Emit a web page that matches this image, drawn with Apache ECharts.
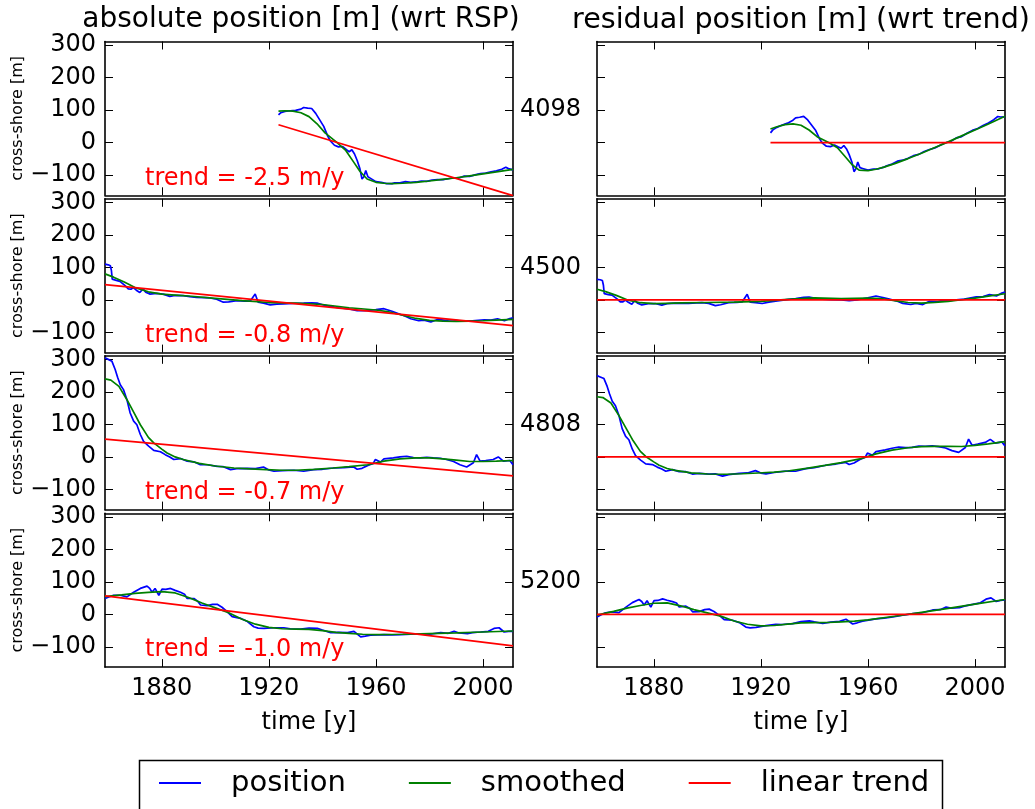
<!DOCTYPE html>
<html>
<head>
<meta charset="utf-8">
<script src="https://cdn.jsdelivr.net/npm/echarts@6/dist/echarts.min.js"></script>
<style>html,body{margin:0;padding:0;background:#fff;}#c{width:1035px;height:809px;}</style>
</head>
<body>
<div id="c"></div>
<script>
// ---------- data ----------
const transectIds = ['4098', '4500', '4808', '5200'];
const trendLabels = ['trend = -2.5 m/y', 'trend = -0.8 m/y', 'trend = -0.7 m/y', 'trend = -1.0 m/y'];
const xTicks = [1880, 1920, 1960, 2000];
const yTicks = [-100, 0, 100, 200, 300];
const seriesNames = ['position', 'smoothed', 'linear trend'];

// linear trend end points [year0, value0, year1, value1]
const trend4098 = [1923.6, 55, 2011.2, -163];
const trend4500 = [1858.8, 47, 2011.2, -79];
const trend4808 = [1858.8, 55, 2011.2, -58];
const trend5200 = [1858.8, 57, 2011.2, -97];

const pos4098 = [[1923.6,85],[1924.5,92],[1926,96],[1928,98],[1930,99],[1932,103],[1933,108],[1934.5,106],[1936,105],[1937.5,90],[1939,70],[1940.5,50],[1942,20],[1943,5],[1944.5,-8],[1946,-13],[1947.5,-12],[1949,-22],[1950,-28],[1951,-22],[1952,-35],[1953,-55],[1954,-80],[1954.8,-112],[1955.5,-105],[1956.2,-86],[1957,-105],[1958,-110],[1960,-120],[1962,-122],[1964,-126],[1966,-126],[1967,-124],[1969,-124],[1971,-120],[1973,-122],[1975,-121],[1977,-118],[1979,-119],[1981,-115],[1983,-114],[1985,-114],[1987,-111],[1989,-108],[1991,-109],[1993,-103],[1995,-104],[1997,-99],[1999,-95],[2001,-94],[2003,-90],[2005,-87],[2007,-82],[2008.5,-76],[2009.5,-80],[2011.2,-84]];
const smooth4098 = [[1923.6,97],[1926,98],[1929,97],[1932,92],[1935,80],[1938,58],[1941,30],[1945.5,0],[1948.6,-23],[1951.7,-60],[1954,-88],[1956.7,-112],[1960,-122],[1963,-125],[1966,-126],[1970,-125],[1975,-122],[1980,-118],[1985,-113],[1990,-108],[1995,-102],[2000,-96],[2005,-90],[2011.2,-82]];

const pos4500 = [[1858.8,110],[1860,108],[1860.8,105],[1861.2,90],[1861.5,64],[1863,60],[1864.4,57],[1866.3,44],[1867.5,34],[1868.5,33],[1869.4,38],[1870.5,30],[1871.8,23],[1873,34],[1874,24],[1875.5,18],[1878,20],[1880.5,18],[1883,11],[1885,14],[1888,13],[1890.5,10],[1893,8],[1896,7],[1898,6],[1900.5,2],[1903,-7],[1905,-6],[1908,-2],[1911,-4],[1913,-4],[1914.9,18],[1916,-7],[1918,-10],[1920.5,-15],[1923,-13],[1925.5,-12],[1929,-11],[1933,-10],[1936,-9],[1938,-10],[1941,-17],[1943,-20],[1946,-24],[1950,-28],[1953,-33],[1956,-33],[1960,-30],[1963,-27],[1966,-35],[1968,-41],[1971,-50],[1973,-58],[1976,-64],[1978,-62],[1980.5,-68],[1983,-60],[1986,-63],[1988,-61],[1991,-64],[1993,-64],[1996,-64],[2000.5,-61],[2003,-62],[2005.4,-58],[2008,-64],[2010,-57],[2011.2,-55]];
const smooth4500 = [[1858.8,80],[1862,70],[1866,55],[1870,38],[1875,25],[1880,18],[1885,15],[1890,12],[1900,5],[1910,-2],[1920,-8],[1930,-10],[1940,-14],[1950,-24],[1960,-31],[1965,-37],[1970,-47],[1975,-57],[1980,-63],[1985,-65],[1990,-66],[1995,-65],[2000,-64],[2005,-62],[2011.2,-60]];

const pos4808 = [[1858.8,305],[1860,300],[1861.4,294],[1862.6,269],[1863.5,245],[1864.5,222],[1865.7,207],[1867,176],[1868.2,135],[1869.5,110],[1870.7,99],[1872,69],[1873.2,48],[1875.1,33],[1877,20],[1879.5,16],[1881.3,7],[1883,0],[1884.5,-8],[1887,-5],[1889.5,-13],[1892,-15],[1894.4,-24],[1897,-24],[1900.7,-29],[1903,-30],[1905.7,-39],[1908,-36],[1911.9,-35],[1915,-36],[1918,-31],[1920,-40],[1921.9,-44],[1925,-42],[1929.4,-41],[1933,-44],[1936.8,-39],[1940,-38],[1944.3,-34],[1948,-33],[1951.7,-31],[1953,-38],[1954.8,-35],[1957,-26],[1959,-20],[1959.8,-8],[1961.7,-16],[1963,-6],[1966.5,-3],[1969,0],[1971.5,2],[1974,-2],[1976.5,-3],[1979,-1],[1981.4,-3],[1984,-4],[1986.4,-8],[1989,-14],[1991.4,-24],[1993.9,-31],[1996.4,-18],[1997.6,7],[1998.9,-13],[2001,-11],[2003.8,-8],[2005.7,0],[2007.6,-13],[2010,-11],[2011.2,-24]];
const smooth4808 = [[1858.8,240],[1861,236],[1864,217],[1867,176],[1870,130],[1872,99],[1875,60],[1877,43],[1880,24],[1882,12],[1885,0],[1888,-8],[1894,-20],[1900,-28],[1907,-34],[1913,-37],[1919,-39],[1925,-41],[1930,-41],[1937,-38],[1944,-34],[1950,-30],[1957,-24],[1963,-13],[1969,-6],[1975,-3],[1980,-3],[1985,-6],[1990,-10],[1995,-14],[2000,-14],[2005,-13],[2011.2,-11]];

const pos5200 = [[1858.8,49],[1860,53],[1862,59],[1864.5,59],[1867,54],[1869.5,68],[1872,80],[1874.5,87],[1875.5,80],[1876.4,68],[1877.5,80],[1878.9,59],[1880.1,78],[1881.5,77],[1883.3,80],[1885,74],[1887,68],[1888.5,62],[1889.5,49],[1892,49],[1893.5,40],[1894.5,29],[1897,27],[1899,31],[1900.7,31],[1902.5,22],[1904.5,8],[1906.3,-7],[1909.4,-12],[1912,-22],[1914.4,-38],[1916,-42],[1918.2,-43],[1921.9,-41],[1925.6,-41],[1928,-44],[1931.9,-45],[1935,-42],[1938.1,-43],[1940,-48],[1943.1,-56],[1946,-55],[1949.4,-56],[1951.8,-52],[1954.3,-69],[1956,-67],[1958,-64],[1963,-62],[1966,-63],[1969.3,-62],[1973,-61],[1976.8,-60],[1980,-61],[1984.2,-56],[1987,-58],[1989.2,-52],[1991,-57],[1994.2,-59],[1996,-56],[1999.1,-54],[2002,-52],[2004.1,-43],[2006,-41],[2007.9,-54],[2009.5,-52],[2011.2,-52]];
const smooth5200 = [[1858.8,55],[1865,60],[1870,65],[1875,68],[1880,70],[1885,66],[1890,52],[1895,35],[1900,20],[1905,5],[1910,-15],[1915,-30],[1920,-40],[1925,-44],[1930,-45],[1935,-46],[1940,-50],[1945,-55],[1950,-58],[1955,-61],[1960,-62],[1970,-61],[1980,-59],[1990,-57],[2000,-54],[2011.2,-51]];

const positions = [pos4098, pos4500, pos4808, pos5200];
const smoothed = [smooth4098, smooth4500, smooth4808, smooth5200];
const trends = [trend4098, trend4500, trend4808, trend5200];

// ---------- layout ----------
const X_MIN = 1858.8, X_MAX = 2011.2, Y_MIN = -162, Y_MAX = 311;
const tops = [41.5, 198.8, 355.8, 513.3];
const H = 153.8;
const FONT = 'DejaVu Sans';
const BLUE = '#0000ff', GREEN = '#008000', RED = '#ff0000';

function trendAt(t, x) {
  return t[1] + (t[3] - t[1]) * (x - t[0]) / (t[2] - t[0]);
}

const grid = [], xAxis = [], yAxis = [], series = [], graphic = [];
const lineAx = { show: true, onZero: false, lineStyle: { color: '#000', width: 1.6 } };
const tickAx = { show: true, inside: true, length: 8, lineStyle: { color: '#000', width: 1 } };

for (let r = 0; r < 4; r++) {
  for (let c = 0; c < 2; c++) {
    const g = r * 2 + c;
    grid.push({ left: c === 0 ? 105 : 597, top: tops[r], width: 408, height: H, containLabel: false });
    const bottomRow = r === 3;
    xAxis.push({
      type: 'value', gridIndex: g, position: 'bottom', min: X_MIN, max: X_MAX,
      axisLine: lineAx, splitLine: { show: false },
      axisTick: Object.assign({}, tickAx, { customValues: xTicks }),
      axisLabel: { show: bottomRow, customValues: xTicks, margin: 10, fontSize: 24, fontFamily: FONT, color: '#000', formatter: v => String(v) },
      name: bottomRow ? 'time [y]' : '', nameLocation: 'middle', nameGap: 56,
      nameTextStyle: { fontSize: 24, fontFamily: FONT, color: '#000', verticalAlign: 'middle' }
    });
    xAxis.push({
      type: 'value', gridIndex: g, position: 'top', min: X_MIN, max: X_MAX,
      axisLine: lineAx, splitLine: { show: false },
      axisTick: Object.assign({}, tickAx, { customValues: xTicks }),
      axisLabel: { show: false }
    });
    if (c === 0) {
      yAxis.push({
        type: 'value', gridIndex: g, position: 'left', min: Y_MIN, max: Y_MAX,
        axisLine: lineAx, splitLine: { show: false },
        axisTick: Object.assign({}, tickAx, { customValues: yTicks }),
        axisLabel: { show: true, customValues: yTicks, margin: 9, fontSize: 24, fontFamily: FONT, color: '#000',
          formatter: v => v < 0 ? '\u2212' + Math.abs(v) : String(v) },
        name: 'cross-shore [m]', nameLocation: 'middle', nameRotate: 90, nameGap: 87,
        nameTextStyle: { fontSize: 16, fontFamily: FONT, color: '#000', verticalAlign: 'middle' }
      });
    } else {
      const id = transectIds[r];
      yAxis.push({
        type: 'value', gridIndex: g, position: 'left', min: Y_MIN, max: Y_MAX,
        axisLine: lineAx, splitLine: { show: false },
        axisTick: Object.assign({}, tickAx, { customValues: yTicks }),
        axisLabel: { show: true, customValues: [100], margin: 16, fontSize: 24, fontFamily: FONT, color: '#000',
          padding: [12, 0, 0, 0], formatter: () => id }
      });
    }
    yAxis.push({
      type: 'value', gridIndex: g, position: 'right', min: Y_MIN, max: Y_MAX,
      axisLine: lineAx, splitLine: { show: false },
      axisTick: Object.assign({}, tickAx, { customValues: yTicks }),
      axisLabel: { show: false }
    });

    const pos = positions[r], sm = smoothed[r], tr = trends[r];
    let blue, green, red;
    if (c === 0) {
      blue = pos; green = sm; red = [[tr[0], tr[1]], [tr[2], tr[3]]];
    } else {
      blue = pos.map(p => [p[0], p[1] - trendAt(tr, p[0])]);
      green = sm.map(p => [p[0], p[1] - trendAt(tr, p[0])]);
      red = [[tr[0], 0], [tr[2], 0]];
    }
    const common = { type: 'line', xAxisIndex: g * 2, yAxisIndex: g * 2, symbol: 'none', showSymbol: false, clip: true, animation: false };
    series.push(Object.assign({}, common, { name: seriesNames[0], data: blue, color: BLUE, lineStyle: { color: BLUE, width: 1.7 }, z: 2 }));
    series.push(Object.assign({}, common, { name: seriesNames[1], data: green, color: GREEN, lineStyle: { color: GREEN, width: 1.7 }, z: 3 }));
    series.push(Object.assign({}, common, { name: seriesNames[2], data: red, color: RED, lineStyle: { color: RED, width: 1.7 }, z: 4 }));

    if (c === 0) {
      graphic.push({
        type: 'text', left: 145, top: tops[r] + H - 16 - 13, z: 10,
        style: { text: trendLabels[r], fill: RED, font: '24px "DejaVu Sans"' }
      });
    }
  }
}

graphic.push({
  type: 'rect', shape: { x: 139.5, y: 760.5, width: 803, height: 70 },
  style: { fill: 'none', stroke: '#000', lineWidth: 1.5 }, z: 1
});

const option = {
  backgroundColor: '#fff',
  animation: false,
  title: [
    { text: 'absolute position [m] (wrt RSP)', left: 301, top: 6, padding: 0, textAlign: 'center',
      textStyle: { fontSize: 28, fontWeight: 'normal', fontFamily: FONT, color: '#000' } },
    { text: 'residual position [m] (wrt trend)', left: 801, top: 6, padding: 0, textAlign: 'center',
      textStyle: { fontSize: 28.6, fontWeight: 'normal', fontFamily: FONT, color: '#000' } }
  ],
  legend: {
    data: seriesNames, left: 159, top: 768, padding: 0, icon: 'rect', itemWidth: 42, itemHeight: 2, itemGap: 63,
    textStyle: { fontSize: 29, fontFamily: FONT, color: '#000', padding: [0, 0, 0, 25], lineHeight: 30 },
    selectedMode: false
  },
  grid, xAxis, yAxis, series, graphic
};

const chart = echarts.init(document.getElementById('c'), null, { renderer: 'canvas' });
chart.setOption(option);
</script>
</body>
</html>
